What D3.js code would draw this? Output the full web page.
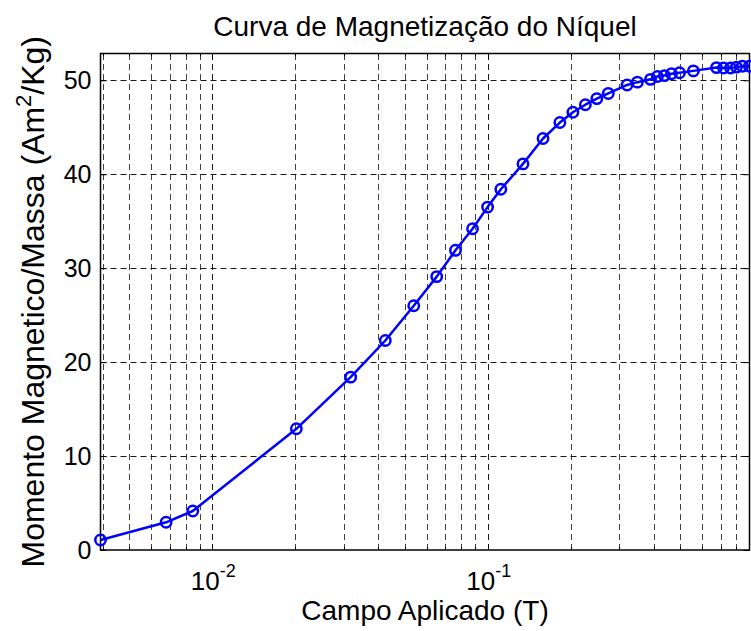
<!DOCTYPE html>
<html>
<head>
<meta charset="utf-8">
<script src="https://cdn.jsdelivr.net/npm/d3@7"></script>
<style>
  html, body { margin: 0; padding: 0; background: #fff; }
  svg { display: block; font-family: "Liberation Sans", Arial, Helvetica, sans-serif; }
</style>
</head>
<body>
<svg id="chart" width="751" height="631"></svg>
<script>
// Applied field (T) and mass magnetization (A·m²/kg) for nickel
const campo = [0.00393, 0.0068, 0.0085, 0.0202, 0.0318, 0.0425, 0.0539, 0.0653,
  0.0764, 0.0881, 0.0999, 0.1116, 0.1343, 0.1588, 0.1828, 0.2038, 0.2262,
  0.249, 0.274, 0.3206, 0.3495, 0.39, 0.413, 0.438, 0.4645, 0.497, 0.558,
  0.677, 0.718, 0.761, 0.80, 0.841, 0.892];
const momento = [1.06, 2.95, 4.15, 12.9, 18.4, 22.3, 26.0, 29.1,
  31.9, 34.2, 36.5, 38.4, 41.1, 43.8, 45.5, 46.6, 47.4,
  48.05, 48.6, 49.5, 49.8, 50.1, 50.4, 50.5, 50.7, 50.8, 51.0,
  51.35, 51.3, 51.3, 51.4, 51.5, 51.5];

const yTicks = [0, 10, 20, 30, 40, 50];
const xMajor = [0.01, 0.1];
const xMinor = [0.004, 0.005, 0.006, 0.007, 0.008, 0.009,
  0.02, 0.03, 0.04, 0.05, 0.06, 0.07, 0.08, 0.09,
  0.2, 0.3, 0.4, 0.5, 0.6, 0.7, 0.8];
const xDomain = [0.00393, 0.892];
const yDomain = [0, 52.85];

const titulo = "Curva de Magnetização do Níquel";
const rotuloX = "Campo Aplicado (T)";

const svg = d3.select("#chart");
const m = { left: 100.5, right: 749.5, top: 53.5, bottom: 550 };

const x = d3.scaleLog().domain(xDomain).range([m.left, m.right]);
const y = d3.scaleLinear().domain(yDomain).range([m.bottom, m.top]);

const W = m.right - m.left, H = m.bottom - m.top;

// grid
const grid = svg.append("g").attr("stroke", "#000").attr("stroke-width", 1)
  .attr("stroke-dasharray", "6,4").attr("fill", "none");
grid.selectAll("line.vx").data(xMajor.concat(xMinor)).join("line")
  .attr("x1", d => Math.round(x(d)) + 0.5).attr("x2", d => Math.round(x(d)) + 0.5)
  .attr("y1", m.bottom).attr("y2", m.top)
  .attr("stroke-opacity", d => xMajor.includes(d) ? 0.9 : 0.75);
grid.selectAll("line.hy").data(yTicks.filter(d => d > 0)).join("line")
  .attr("x1", m.left).attr("x2", m.right)
  .attr("y1", d => Math.round(y(d)) + 0.5).attr("y2", d => Math.round(y(d)) + 0.5)
  .attr("stroke-opacity", 0.9);

// x ticks drawn inward on bottom and top edges
const gTicks = svg.append("g").attr("stroke", "#000").attr("stroke-width", 1);
xMajor.concat(xMinor).forEach(d => {
  const len = xMajor.includes(d) ? 6 : 3;
  const xp = Math.round(x(d)) + 0.5;
  gTicks.append("line").attr("x1", xp).attr("x2", xp).attr("y1", m.bottom).attr("y2", m.bottom - len);
  gTicks.append("line").attr("x1", xp).attr("x2", xp).attr("y1", m.top).attr("y2", m.top + len);
});

const axL = d3.axisRight(y).tickValues(yTicks).tickSize(6).tickFormat("");
svg.append("g").attr("transform", `translate(${m.left},0)`).call(axL)
  .call(g => g.select(".domain").remove());
const axR = d3.axisLeft(y).tickValues(yTicks).tickSize(6).tickFormat("");
svg.append("g").attr("transform", `translate(${m.right},0)`).call(axR)
  .call(g => g.select(".domain").remove());

// box
svg.append("rect").attr("x", m.left).attr("y", m.top).attr("width", W).attr("height", H)
  .attr("fill", "none").attr("stroke", "#000").attr("stroke-width", 1.5);

// y tick labels
svg.append("g").selectAll("text").data(yTicks).join("text")
  .attr("x", m.left - 9).attr("y", d => y(d)).attr("dy", "0.36em")
  .attr("text-anchor", "end").attr("font-size", 25).attr("fill", "#000")
  .text(d => d);

// x tick labels: 10^n
const xl = svg.append("g").selectAll("text").data(xMajor).join("text")
  .attr("x", d => x(d) + 1).attr("y", 590).attr("text-anchor", "middle")
  .attr("font-size", 26).attr("fill", "#000");
xl.append("tspan").text("10");
xl.append("tspan").attr("dy", -13).attr("font-size", 18).text(d => Math.round(Math.log10(d)));

// line and markers
const pts = campo.map((c, i) => [c, momento[i]]);
svg.append("path").datum(pts)
  .attr("fill", "none").attr("stroke", "#0000ff").attr("stroke-width", 2.5)
  .attr("stroke-linejoin", "round")
  .attr("d", d3.line().x(d => x(d[0])).y(d => y(d[1])));
svg.append("g").selectAll("circle").data(pts).join("circle")
  .attr("cx", d => x(d[0])).attr("cy", d => y(d[1])).attr("r", 5.2)
  .attr("fill", "none").attr("stroke", "#0000ff").attr("stroke-width", 2.5);

// titles
svg.append("text").attr("x", (m.left + m.right) / 2).attr("y", 36)
  .attr("text-anchor", "middle").attr("font-size", 28).attr("fill", "#000")
  .text(titulo);
svg.append("text").attr("x", (m.left + m.right) / 2).attr("y", 620)
  .attr("text-anchor", "middle").attr("font-size", 28).attr("fill", "#000")
  .text(rotuloX);
const yl = svg.append("text")
  .attr("transform", `translate(44,${(m.top + m.bottom) / 2}) rotate(-90)`)
  .attr("text-anchor", "middle").attr("font-size", 32).attr("fill", "#000");
yl.append("tspan").text("Momento Magnetico/Massa (Am");
yl.append("tspan").attr("dy", -13).attr("font-size", 22).text("2");
yl.append("tspan").attr("dy", 13).text("/Kg)");
</script>
</body>
</html>
